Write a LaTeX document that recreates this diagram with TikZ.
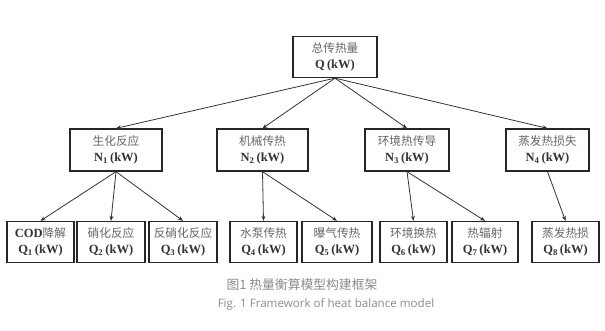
\documentclass[tikz,border=0pt]{standalone}
\usepackage{fontspec}
\setmainfont{Liberation Serif}
\newfontfamily\cjk{Noto Sans CJK SC}
\newfontfamily\capfont{Open Sans}
\usetikzlibrary{arrows.meta}
\newcommand{\zh}[1]{{\cjk\fontsize{11.7}{16}\selectfont\color{black!60}#1}}
\newcommand{\unit}[2]{\textbf{#1\textsubscript{#2}\,(kW)}}
\begin{document}
\begin{tikzpicture}[x=1pt,y=-1pt,
  box/.style={draw=black!85, line width=1.3pt, minimum height=41pt, inner sep=0pt,
    align=center, fill=white, text=black!80, font=\fontsize{12.5}{16}\selectfont},
  conn/.style={draw=black!80, line width=0.8pt, -{Stealth[length=5pt,width=4pt]}}]
\useasboundingbox[fill=white] (0,0) rectangle (605,331);
% root
\node[box, minimum width=84pt] (root) at (335,57) {\zh{总传热量}\\\textbf{Q\,(kW)}};
% level 2
\node[box, minimum width=92pt, minimum height=42pt] (n1) at (116,150) {\zh{生化反应}\\\unit{N}{1}};
\node[box, minimum width=91pt, minimum height=42pt] (n2) at (262.5,150) {\zh{机械传热}\\\unit{N}{2}};
\node[box, minimum width=84pt, minimum height=42pt] (n3) at (407,150) {\zh{环境热传导}\\\unit{N}{3}};
\node[box, minimum width=83pt, minimum height=42pt] (n4) at (547.5,150) {\zh{蒸发热损失}\\\unit{N}{4}};
% level 3
\node[box, minimum width=67pt] (q1) at (40.5,242) {\textbf{COD}\zh{降解}\\\unit{Q}{1}};
\node[box, minimum width=68pt] (q2) at (111,242) {\zh{硝化反应}\\\unit{Q}{2}};
\node[box, minimum width=68pt] (q3) at (183,242) {\zh{反硝化反应}\\\unit{Q}{3}};
\node[box, minimum width=67pt] (q4) at (263.5,242) {\zh{水泵传热}\\\unit{Q}{4}};
\node[box, minimum width=70pt] (q5) at (337,242) {\zh{曝气传热}\\\unit{Q}{5}};
\node[box, minimum width=67pt] (q6) at (413.5,242) {\zh{环境换热}\\\unit{Q}{6}};
\node[box, minimum width=66pt] (q7) at (485,242) {\zh{热辐射}\\\unit{Q}{7}};
\node[box, minimum width=67pt] (q8) at (565.5,242) {\zh{蒸发热损}\\\unit{Q}{8}};
% connectors
\foreach \t in {n1,n2,n3,n4} \draw[conn] (root.south) -- (\t.north);
\foreach \t in {q1,q2,q3} \draw[conn] (n1.south) -- (\t.north);
\foreach \t in {q4,q5} \draw[conn] (n2.south) -- (\t.north);
\foreach \t in {q6,q7} \draw[conn] (n3.south) -- (\t.north);
\draw[conn] (n4.south) -- (q8.north);
% caption
\node[font=\cjk\fontsize{12.8}{14}\selectfont, text=black!45] (cap1) at (302,285) {图1\ 热量衡算模型构建框架};
\node[font=\capfont\fontsize{11.6}{14}\selectfont, text=black!45] (cap2) at (326,304) {Fig. 1 Framework of heat balance model};
\end{tikzpicture}
\end{document}
